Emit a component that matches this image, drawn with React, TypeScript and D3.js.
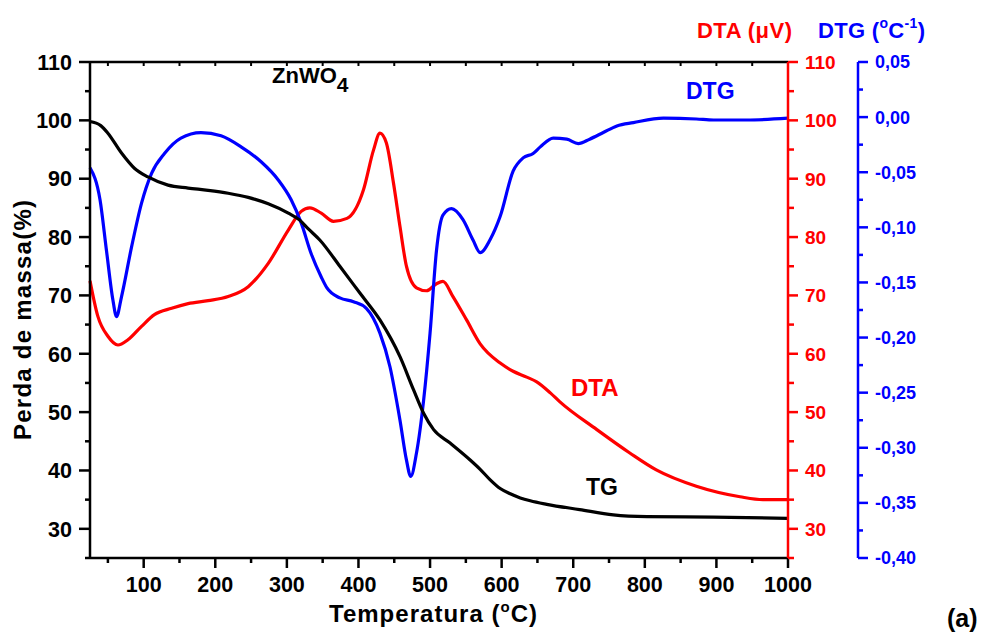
import React from 'react';
import * as d3 from 'd3';

// TG: mass loss (%) vs temperature (°C)
const tgTemp = [25, 40, 50, 69, 87, 106, 134, 162, 190, 218, 246, 274, 302, 318, 330, 346, 374, 402, 430, 458, 477, 491, 505, 528, 556, 570, 584, 598, 612, 626, 640, 663, 709, 756, 803, 896, 1000];
const tgMass = [99.8, 99.1, 97.8, 94.4, 91.8, 90.3, 88.9, 88.4, 88.0, 87.5, 86.8, 85.7, 84.1, 82.9, 81.4, 79.5, 75.0, 70.4, 65.8, 59.5, 53.8, 49.8, 47.0, 44.7, 41.8, 40.2, 38.4, 36.9, 36.0, 35.3, 34.8, 34.2, 33.3, 32.4, 32.1, 32.0, 31.8];

// DTA signal (µV)
const dtaTemp = [25, 36, 50, 64, 78, 97, 115, 139, 162, 190, 218, 246, 274, 302, 320, 332, 348, 365, 384, 407, 421, 430, 439, 449, 458, 467, 481, 495, 509, 518, 532, 551, 570, 598, 616, 635, 649, 668, 681, 733, 779, 816, 872, 933, 965, 1000];
const dtaSignal = [72.5, 66.4, 63.0, 61.5, 62.4, 64.7, 66.7, 67.8, 68.6, 69.1, 69.8, 71.5, 75.5, 81.2, 84.4, 85.0, 84.1, 82.7, 83.2, 88.1, 94.9, 97.8, 96.1, 89.2, 81.8, 75.0, 71.3, 70.8, 72.0, 72.4, 69.8, 65.8, 61.7, 58.4, 57.0, 56.0, 55.2, 53.3, 51.8, 47.0, 43.0, 40.1, 37.3, 35.5, 35.0, 35.0];

// DTG rate (°C^-1)
const dtgTemp = [25, 39, 48, 57, 62, 69, 83, 97, 111, 129, 152, 180, 208, 236, 264, 288, 306, 320, 334, 348, 356, 374, 393, 411, 430, 444, 458, 467, 473, 481, 491, 500, 509, 518, 530, 546, 560, 570, 584, 598, 616, 630, 644, 654, 672, 691, 707, 723, 742, 761, 784, 826, 872, 896, 942, 1000];
const dtgRate = [-0.046, -0.075, -0.121, -0.166, -0.181, -0.163, -0.118, -0.078, -0.051, -0.033, -0.019, -0.014, -0.017, -0.027, -0.0405, -0.057, -0.075, -0.096, -0.124, -0.145, -0.155, -0.164, -0.1675, -0.1735, -0.196, -0.2265, -0.275, -0.311, -0.326, -0.305, -0.257, -0.196, -0.121, -0.089, -0.083, -0.093, -0.1115, -0.123, -0.111, -0.090, -0.049, -0.037, -0.033, -0.027, -0.019, -0.020, -0.024, -0.020, -0.014, -0.008, -0.005, -0.001, -0.0017, -0.0026, -0.0026, -0.001];

const xMajor = [100, 200, 300, 400, 500, 600, 700, 800, 900, 1000];
const xMinor = [50, 150, 250, 350, 450, 550, 650, 750, 850, 950];
const yMajor = [30, 40, 50, 60, 70, 80, 90, 100, 110];
const yMinor = [25, 35, 45, 55, 65, 75, 85, 95, 105];
const dtgMajor = [0.05, 0, -0.05, -0.1, -0.15, -0.2, -0.25, -0.3, -0.35, -0.4];
const dtgMinor = [0.025, -0.025, -0.075, -0.125, -0.175, -0.225, -0.275, -0.325, -0.375];

const FONT = '"Liberation Sans", Arial, Helvetica, sans-serif';
const RED = '#ff0000';
const BLUE = '#0000ff';

const L = 90, R = 788, T = 62, B = 558, DTG_AX = 858;

const x = d3.scaleLinear().domain([25, 1000]).range([L, R]);
const yMass = d3.scaleLinear().domain([25, 110]).range([B, T]);
const yDta = d3.scaleLinear().domain([25, 110]).range([B, T]);
const yDtg = d3.scaleLinear().domain([-0.4, 0.05]).range([B, T]);

const fmtDtg = (v: number) => {
  const s = Math.abs(v).toFixed(2).replace('.', ',');
  return v < -1e-9 ? '-' + s : s;
};

function makePath(xs: number[], ys: number[], yScale: d3.ScaleLinear<number, number>) {
  const pts: [number, number][] = xs.map((t, i) => [t, ys[i]]);
  return d3
    .line<[number, number]>()
    .x((d) => x(d[0]))
    .y((d) => yScale(d[1]))
    .curve(d3.curveMonotoneX)(pts) as string;
}

export default function App() {
  const tgPath = makePath(tgTemp, tgMass, yMass);
  const dtaPath = makePath(dtaTemp, dtaSignal, yDta);
  const dtgPath = makePath(dtgTemp, dtgRate, yDtg);
  const bold = { fontFamily: FONT, fontWeight: 700 } as const;

  return (
    <svg
      width={986}
      height={640}
      style={{ position: 'absolute', left: 0, top: 0, background: '#fff' }}
    >
      {/* curves */}
      <path d={dtaPath} fill="none" stroke={RED} strokeWidth={3.2} />
      <path d={dtgPath} fill="none" stroke={BLUE} strokeWidth={3.2} />
      <path d={tgPath} fill="none" stroke="#000" strokeWidth={3.2} />

      {/* bottom axis */}
      <line x1={L} x2={R} y1={B} y2={B} stroke="#000" strokeWidth={2.5} />
      {xMajor.map((v) => (
        <g key={'xm' + v}>
          <line x1={x(v)} x2={x(v)} y1={B} y2={B + 10} stroke="#000" strokeWidth={2.5} />
          <text x={x(v)} y={591.5} textAnchor="middle" {...bold} fontSize={21.5}>{v}</text>
        </g>
      ))}
      {xMinor.map((v) => (
        <line key={'xn' + v} x1={x(v)} x2={x(v)} y1={B} y2={B + 5} stroke="#000" strokeWidth={2.5} />
      ))}

      {/* top axis */}
      <line x1={L} x2={R} y1={T} y2={T} stroke="#000" strokeWidth={2.5} />
      {xMajor.concat(xMinor).map((v) => (
        <line key={'xt' + v} x1={x(v)} x2={x(v)} y1={T} y2={T + 4} stroke="#000" strokeWidth={2} />
      ))}

      {/* left axis */}
      <line x1={L} x2={L} y1={T} y2={B} stroke="#000" strokeWidth={2.5} />
      {yMajor.map((v) => (
        <g key={'ym' + v}>
          <line x1={L - 11} x2={L} y1={yMass(v)} y2={yMass(v)} stroke="#000" strokeWidth={2.5} />
          <text x={72} y={yMass(v)} dy="0.36em" textAnchor="end" {...bold} fontSize={21.5}>{v}</text>
        </g>
      ))}
      {yMinor.map((v) => (
        <line key={'yn' + v} x1={L - 5} x2={L} y1={yMass(v)} y2={yMass(v)} stroke="#000" strokeWidth={2.5} />
      ))}

      {/* right DTA axis */}
      <line x1={R} x2={R} y1={T} y2={B} stroke={RED} strokeWidth={2.5} />
      {yMajor.map((v) => (
        <g key={'rm' + v}>
          <line x1={R} x2={R + 10} y1={yDta(v)} y2={yDta(v)} stroke={RED} strokeWidth={2.5} />
          <text x={805} y={yDta(v)} dy="0.36em" textAnchor="start" fill={RED} {...bold} fontSize={19}>{v}</text>
        </g>
      ))}
      {yMinor.map((v) => (
        <line key={'rn' + v} x1={R} x2={R + 6} y1={yDta(v)} y2={yDta(v)} stroke={RED} strokeWidth={2.5} />
      ))}

      {/* far-right DTG axis */}
      <line x1={DTG_AX} x2={DTG_AX} y1={T} y2={B} stroke={BLUE} strokeWidth={2.5} />
      {dtgMajor.map((v) => (
        <g key={'bm' + v}>
          <line x1={DTG_AX} x2={DTG_AX + 10} y1={yDtg(v)} y2={yDtg(v)} stroke={BLUE} strokeWidth={2.5} />
          <text x={875} y={yDtg(v)} dy="0.36em" textAnchor="start" fill={BLUE} {...bold} fontSize={18}>{fmtDtg(v)}</text>
        </g>
      ))}
      {dtgMinor.map((v) => (
        <line key={'bn' + v} x1={DTG_AX} x2={DTG_AX + 5} y1={yDtg(v)} y2={yDtg(v)} stroke={BLUE} strokeWidth={2.5} />
      ))}

      {/* axis titles */}
      <text x={329} y={621.5} {...bold} fontSize={24} textLength={208} lengthAdjust="spacing">
        Temperatura (<tspan fontSize={15} dy={-10}>o</tspan><tspan dy={10}>C)</tspan>
      </text>
      <text
        transform="translate(31,440) rotate(-90)"
        {...bold}
        fontSize={24}
        textLength={240}
        lengthAdjust="spacing"
      >
        Perda de massa(%)
      </text>
      <text x={697} y={38} fill={RED} {...bold} fontSize={22} textLength={95} lengthAdjust="spacing">
        DTA (μV)
      </text>
      <text x={818} y={38} fill={BLUE} {...bold} fontSize={22} textLength={107} lengthAdjust="spacing">
        DTG (<tspan fontSize={14} dy={-10}>o</tspan><tspan dy={10}>C</tspan>
        <tspan fontSize={14} dy={-10}>-1</tspan><tspan dy={10}>)</tspan>
      </text>

      {/* curve annotations */}
      <text x={272} y={83} {...bold} fontSize={22}>
        ZnWO<tspan fontSize={21} dy={9}>4</tspan>
      </text>
      <text x={686} y={99} fill={BLUE} {...bold} fontSize={23}>DTG</text>
      <text x={571} y={395.5} fill={RED} {...bold} fontSize={24}>DTA</text>
      <text x={586} y={495} {...bold} fontSize={23}>TG</text>
      <text x={947} y={627} {...bold} fontSize={25}>(a)</text>
    </svg>
  );
}
